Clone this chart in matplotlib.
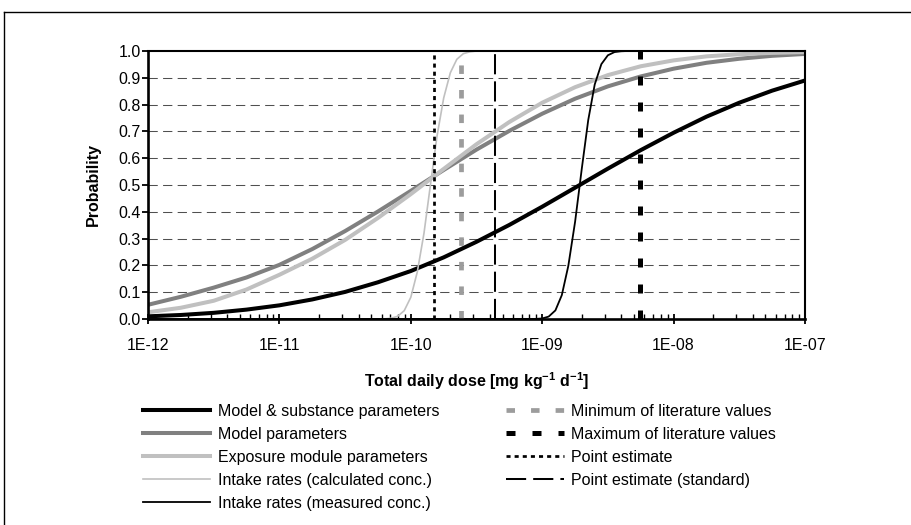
import matplotlib
matplotlib.use("Agg")
import matplotlib.pyplot as plt
from matplotlib.lines import Line2D
from matplotlib.ticker import FixedLocator, LogLocator, NullFormatter

plt.rcParams["font.family"] = ["Liberation Sans", "DejaVu Sans"]
plt.rcParams["mathtext.fontset"] = "custom"
plt.rcParams["mathtext.bf"] = "Liberation Sans:bold"
plt.rcParams["mathtext.rm"] = "Liberation Sans"

# cumulative probability, sampled every quarter decade
dose = [1e-12, 1.78e-12, 3.16e-12, 5.62e-12,
        1e-11, 1.78e-11, 3.16e-11, 5.62e-11,
        1e-10, 1.78e-10, 3.16e-10, 5.62e-10,
        1e-9, 1.78e-9, 3.16e-9, 5.62e-9,
        1e-8, 1.78e-8, 3.16e-8, 5.62e-8, 1e-7]
p_model_substance = [0.010, 0.015, 0.023, 0.035, 0.051, 0.073, 0.101, 0.137,
                     0.179, 0.230, 0.288, 0.351, 0.419, 0.490, 0.561, 0.630,
                     0.695, 0.755, 0.807, 0.852, 0.890]
p_model = [0.053, 0.083, 0.117, 0.155, 0.202, 0.261, 0.328, 0.401,
           0.478, 0.556, 0.632, 0.702, 0.766, 0.822, 0.868, 0.905,
           0.934, 0.956, 0.971, 0.982, 0.989]
p_exposure = [0.025, 0.042, 0.068, 0.110, 0.165, 0.225, 0.295, 0.377,
              0.466, 0.560, 0.652, 0.735, 0.807, 0.865, 0.910, 0.943,
              0.965, 0.980, 0.988, 0.993, 0.996]

# intake rate curves are steep, so they get a finer grid
dose_intake_calc = [1e-12, 6.31e-11, 7.08e-11, 7.94e-11, 8.91e-11, 1.0e-10,
                    1.12e-10, 1.26e-10, 1.41e-10, 1.58e-10, 1.78e-10, 2.0e-10,
                    2.24e-10, 2.51e-10, 2.82e-10, 3.16e-10, 1e-7]
p_intake_calc = [0.0, 0.0005, 0.003, 0.010, 0.031, 0.081, 0.175, 0.320, 0.500,
                 0.680, 0.825, 0.919, 0.969, 0.990, 0.997, 1.0, 1.0]
dose_intake_meas = [1e-12, 8.91e-10, 1.0e-9, 1.12e-9, 1.26e-9, 1.41e-9,
                    1.58e-9, 1.78e-9, 2.0e-9, 2.24e-9, 2.51e-9, 2.82e-9,
                    3.16e-9, 3.55e-9, 3.98e-9, 4.47e-9, 1e-7]
p_intake_meas = [0.0, 0.0004, 0.002, 0.009, 0.032, 0.089, 0.198, 0.363, 0.560,
                 0.742, 0.875, 0.951, 0.984, 0.996, 0.999, 1.0, 1.0]

lit_min = 2.43e-10
lit_max = 5.54e-9
point_est = 1.50e-10
point_est_std = 4.35e-10

x_ticks = [1e-12, 1e-11, 1e-10, 1e-9, 1e-8, 1e-7]
x_tick_labels = ["1E-12", "1E-11", "1E-10", "1E-09", "1E-08", "1E-07"]
y_ticks = [0.0, 0.1, 0.2, 0.3, 0.4, 0.5, 0.6, 0.7, 0.8, 0.9, 1.0]
y_tick_labels = ["0.0", "0.1", "0.2", "0.3", "0.4", "0.5", "0.6", "0.7",
                 "0.8", "0.9", "1.0"]

FS = 11.5
W, H = 911, 525

fig = plt.figure(figsize=(W / 100, H / 100), dpi=100)
ax = fig.add_axes([148 / W, 1 - 319 / H, 657 / W, 268 / H])

curves = []
curves += ax.plot(dose, p_model_substance, color="black", lw=2.9,
                  label="Model & substance parameters")
curves += ax.plot(dose, p_model, color="#808080", lw=2.9,
                  label="Model parameters")
curves += ax.plot(dose, p_exposure, color="#c0c0c0", lw=2.9,
                  label="Exposure module parameters")
curves += ax.plot(dose_intake_calc, p_intake_calc, color="#c0c0c0", lw=1.2,
                  label="Intake rates (calculated conc.)")
curves += ax.plot(dose_intake_meas, p_intake_meas, color="black", lw=1.3,
                  label="Intake rates (measured conc.)")

marks = []
marks.append(ax.axvline(lit_min, color="#9c9c9c", lw=3.4,
                        linestyle=(0, (1.8, 3.4)),
                        label="Minimum of literature values"))
marks.append(ax.axvline(lit_max, color="black", lw=3.6,
                        linestyle=(0, (1.8, 3.4)),
                        label="Maximum of literature values"))
marks.append(ax.axvline(point_est, color="black", lw=1.95,
                        linestyle=(0, (1.5, 1.5)), label="Point estimate"))
marks.append(ax.axvline(point_est_std, color="black", lw=1.45,
                        linestyle=(0, (10, 3.5)),
                        label="Point estimate (standard)"))

ax.set_xscale("log")
ax.set_xlim(1e-12, 1e-7)
ax.set_ylim(0, 1)

ax.xaxis.set_major_locator(FixedLocator(x_ticks))
ax.set_xticklabels(x_tick_labels)
ax.xaxis.set_minor_locator(LogLocator(base=10, subs=range(2, 10)))
ax.xaxis.set_minor_formatter(NullFormatter())
ax.set_yticks(y_ticks)
ax.set_yticklabels(y_tick_labels)

ax.tick_params(axis="x", which="major", direction="inout", length=7.2,
               width=1.3, pad=10.0, labelsize=FS)
ax.tick_params(axis="x", which="minor", direction="in", length=3.6,
               width=1.0)
ax.tick_params(axis="y", which="major", direction="out", length=4.3,
               width=1.3, pad=1.0, labelsize=FS)

# horizontal dashed gridlines between 0 and 1
for y in y_ticks[1:-1]:
    ax.axhline(y, color="#505050", lw=0.75, linestyle=(0, (8.9, 5.1)),
               zorder=1)

for side in ["left", "bottom"]:
    ax.spines[side].set_linewidth(1.9)
for side in ["top", "right"]:
    ax.spines[side].set_linewidth(1.5)

ax.text(-0.0837, 0.5, "Probability", transform=ax.transAxes, rotation=90,
        ha="center", va="center", fontsize=FS, fontweight="bold")
fig.text(476.5 / W, 1 - 381 / H,
         r"Total daily dose [mg kg$^{\mathbf{-1}}$ d$^{\mathbf{-1}}$]",
         ha="center", va="center", fontsize=FS, fontweight="bold")

leg1 = ax.legend(handles=curves, loc="upper left",
                 bbox_to_anchor=(143 / W, 1 - 404 / H),
                 bbox_transform=fig.transFigure, frameon=False, fontsize=FS,
                 handlelength=4.2, handletextpad=0.5, labelspacing=0.5,
                 borderpad=0, borderaxespad=0)
ax.add_artist(leg1)
ax.legend(handles=marks, loc="upper left",
          bbox_to_anchor=(506 / W, 1 - 404 / H),
          bbox_transform=fig.transFigure, frameon=False, fontsize=FS,
          handlelength=3.6, handletextpad=0.5, labelspacing=0.5,
          borderpad=0, borderaxespad=0)

# outer frame, left and top edges
fig.add_artist(Line2D([4 / W, 4 / W], [0, 1 - 12 / H],
                      transform=fig.transFigure, color="black", lw=1.0))
fig.add_artist(Line2D([4 / W, 1], [1 - 12 / H, 1 - 12 / H],
                      transform=fig.transFigure, color="black", lw=1.0))

fig.savefig("out.png", dpi=100)
